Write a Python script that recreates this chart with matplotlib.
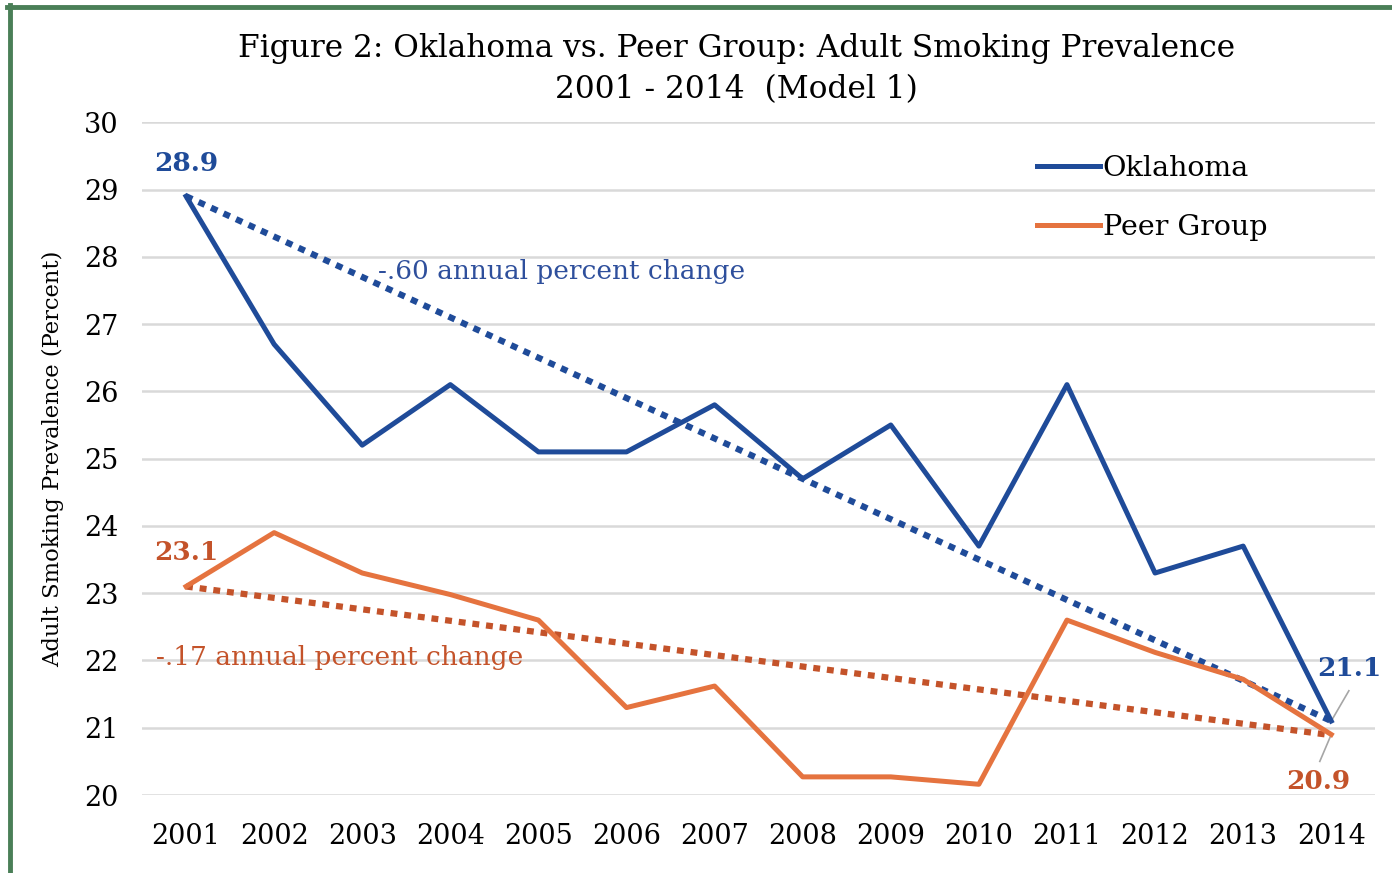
import matplotlib
matplotlib.use("Agg")
import matplotlib.pyplot as plt
from matplotlib.lines import Line2D
import numpy as np

plt.rcParams['font.family'] = ['DejaVu Serif']

years = np.arange(2001, 2015)
oklahoma = [28.9, 26.7, 25.2, 26.1, 25.1, 25.1, 25.8, 24.7, 25.5, 23.7, 26.1, 23.3, 23.7, 21.1]
peer = [23.1, 23.9, 23.3, 22.98, 22.6, 21.3, 21.62, 20.27, 20.27, 20.16, 22.6, 22.12, 21.72, 20.9]
ok_trend = -0.60
peer_trend = -0.17

blue = "#1F4B99"
orange = "#E5733F"
orange_dark = "#C4532A"

fig = plt.figure(figsize=(13.92, 8.73), dpi=100)
ax = fig.add_axes([0.102, 0.0893, 0.886, 0.7707])

# trend lines
ok_fit = oklahoma[0] + ok_trend * (years - years[0])
peer_fit = peer[0] + peer_trend * (years - years[0])
ax.plot(years, ok_fit, color=blue, lw=4.5, ls=(0, (1.1, 1.1)), dash_capstyle="butt", zorder=3)
ax.plot(years, peer_fit, color=orange_dark, lw=4.5, ls=(0, (1.1, 1.1)), dash_capstyle="butt", zorder=3)

l1, = ax.plot(years, oklahoma, color=blue, lw=3.6, label="Oklahoma", zorder=4)
l2, = ax.plot(years, peer, color=orange, lw=3.6, label="Peer Group", zorder=4)

ax.set_xlim(2000.5, 2014.5)
ax.set_ylim(20, 30)
ax.set_xticks(years)
ax.set_yticks(range(20, 31))
ax.tick_params(length=0, labelsize=19.5, pad=20)
ax.tick_params(axis="y", pad=17)
ax.grid(axis="y", color="#D9D9D9", lw=1.8)
ax.set_axisbelow(True)
for s in ax.spines.values():
    s.set_visible(False)
ax.set_ylabel("Adult Smoking Prevalence (Percent)", fontsize=16.3, labelpad=14)

# labels at end points
ax.text(years[0], 29.38, "28.9", color=blue, fontsize=19, fontweight="bold", ha="center", va="center")
ax.text(years[0], 23.6, "23.1", color=orange_dark, fontsize=19, fontweight="bold", ha="center", va="center")
ax.text(years[-1] + 0.2, 21.88, "21.1", color=blue, fontsize=19, fontweight="bold", ha="center", va="center")
ax.text(years[-1] - 0.15, 20.2, "20.9", color=orange_dark, fontsize=19, fontweight="bold", ha="center", va="center")
ax.plot([years[-1] + 0.2, years[-1]], [21.55, 21.1], color="#A6A6A6", lw=1.2)
ax.plot([years[-1], years[-1] - 0.13], [20.9, 20.5], color="#A6A6A6", lw=1.2)

ax.text(2003.18, 27.78, "-.60 annual percent change", color="#2E4F9C", fontsize=19, va="center")
ax.text(2000.66, 22.05, "-.17 annual percent change", color=orange_dark, fontsize=19, va="center")

ax.legend(handles=[l1, l2], loc="upper left", bbox_to_anchor=(0.705, 0.99), frameon=False,
          fontsize=20.5, handlelength=2.2, handletextpad=0.1, labelspacing=1.15)

fig.text(0.529, 0.944, "Figure 2: Oklahoma vs. Peer Group: Adult Smoking Prevalence",
         fontsize=22.5, ha="center", va="center")
fig.text(0.529, 0.897, "2001 - 2014  (Model 1)", fontsize=22.5, ha="center", va="center")

# green frame (top and left edges)
fig.add_artist(Line2D([7 / 1392, 1], [1 - 7 / 873, 1 - 7 / 873], transform=fig.transFigure, color="#4A7F57", lw=3.5))
fig.add_artist(Line2D([9.5 / 1392, 9.5 / 1392], [0, 1 - 5 / 873], transform=fig.transFigure, color="#4A7F57", lw=3.5))

fig.savefig("out.png", dpi=100)
